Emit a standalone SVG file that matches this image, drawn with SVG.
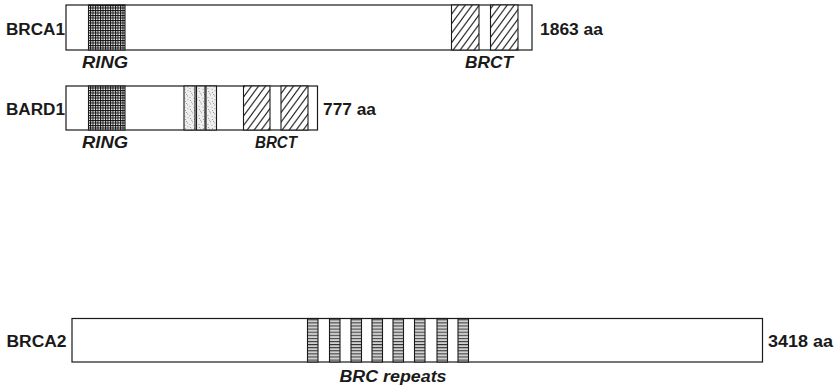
<svg xmlns="http://www.w3.org/2000/svg" width="835" height="386" viewBox="0 0 835 386">
<defs>
  <pattern id="grid" patternUnits="userSpaceOnUse" width="2.5" height="2.5">
    <rect width="2.5" height="2.5" fill="#fff"/>
    <path d="M0 0.5H2.5M0.5 0V2.5" stroke="#111" stroke-width="1"/>
  </pattern>
  <pattern id="hatch" patternUnits="userSpaceOnUse" width="7" height="9.5">
    <rect width="7" height="9.5" fill="#fff"/>
    <path d="M-0.5 10.18L7.5 -0.68M-7.5 10.18L0.5 -0.68M6.5 10.18L14.5 -0.68" stroke="#1a1a1a" stroke-width="1.1"/>
  </pattern>
  <pattern id="stipple" patternUnits="userSpaceOnUse" width="9" height="9">
    <rect width="9" height="9" fill="#efefef"/>
    <g fill="#888">
      <rect x="1" y="1" width="0.9" height="0.9"/>
      <rect x="5" y="2" width="0.9" height="0.9"/>
      <rect x="3" y="4.5" width="0.9" height="0.9"/>
      <rect x="7.2" y="5.5" width="0.9" height="0.9"/>
      <rect x="0.5" y="7" width="0.9" height="0.9"/>
      <rect x="4.6" y="7.8" width="0.9" height="0.9"/>
      <rect x="7.5" y="0.3" width="0.9" height="0.9"/>
      <rect x="2.2" y="2.8" width="0.9" height="0.9"/>
      <rect x="6" y="4" width="0.9" height="0.9"/>
    </g>
  </pattern>
  <pattern id="hstripe" patternUnits="userSpaceOnUse" width="12" height="3.1">
    <rect width="12" height="3.1" fill="#d0d0d0"/>
    <rect y="0" width="12" height="1" fill="#333"/>
  </pattern>
</defs>
<style>
  .box{fill:#fff;stroke:#1a1a1a;stroke-width:1.2}
  .dom{stroke:#1a1a1a;stroke-width:1.1}
  .name{font-family:"Liberation Sans",Arial,sans-serif;font-weight:bold;font-size:16px;fill:#1a1a1a}
  .lab{font-family:"Liberation Sans",Arial,sans-serif;font-weight:bold;font-style:italic;font-size:16px;fill:#1a1a1a}
</style>

<g id="BRCA1">
  <rect class="box" x="66" y="5" width="466" height="45"/>
  <rect class="dom" x="88.5" y="5" width="36.5" height="45" fill="url(#grid)"/>
  <rect class="dom" x="451.5" y="5" width="27.5" height="45" fill="url(#hatch)"/>
  <rect class="dom" x="490.5" y="5" width="27.5" height="45" fill="url(#hatch)"/>
  <text class="name" x="6" y="35" textLength="59" lengthAdjust="spacingAndGlyphs">BRCA1</text>
  <text class="name" x="540" y="35" textLength="63" lengthAdjust="spacingAndGlyphs">1863 aa</text>
  <text class="lab" x="82" y="68" textLength="46" lengthAdjust="spacingAndGlyphs">RING</text>
  <text class="lab" x="465" y="68" textLength="48" lengthAdjust="spacingAndGlyphs">BRCT</text>
</g>

<g id="BARD1">
  <rect class="box" x="66" y="86" width="251.5" height="44"/>
  <rect class="dom" x="88.5" y="86" width="36.5" height="44" fill="url(#grid)"/>
  <rect class="dom" x="184" y="86" width="11" height="44" fill="url(#stipple)"/>
  <rect class="dom" x="196.5" y="86" width="8.5" height="44" fill="url(#stipple)"/>
  <rect class="dom" x="206" y="86" width="10.5" height="44" fill="url(#stipple)"/>
  <rect class="dom" x="243.5" y="86" width="26.5" height="44" fill="url(#hatch)"/>
  <rect class="dom" x="281" y="86" width="27" height="44" fill="url(#hatch)"/>
  <text class="name" x="6" y="115" textLength="59" lengthAdjust="spacingAndGlyphs">BARD1</text>
  <text class="name" x="323" y="115" textLength="53" lengthAdjust="spacingAndGlyphs">777 aa</text>
  <text class="lab" x="82" y="148" textLength="46" lengthAdjust="spacingAndGlyphs">RING</text>
  <text class="lab" x="255" y="148" textLength="42" lengthAdjust="spacingAndGlyphs">BRCT</text>
</g>

<g id="BRCA2">
  <rect class="box" x="72" y="318.5" width="690.5" height="43.5"/>
  <g fill="url(#hstripe)" class="dom">
    <rect x="307.5" y="318.5" width="10.5" height="43.5"/>
    <rect x="329.5" y="318.5" width="10.5" height="43.5"/>
    <rect x="351" y="318.5" width="10.5" height="43.5"/>
    <rect x="372" y="318.5" width="10.5" height="43.5"/>
    <rect x="393" y="318.5" width="10.5" height="43.5"/>
    <rect x="414.5" y="318.5" width="10.5" height="43.5"/>
    <rect x="437" y="318.5" width="10.5" height="43.5"/>
    <rect x="458" y="318.5" width="10.5" height="43.5"/>
  </g>
  <text class="name" x="6.5" y="346.5" textLength="60" lengthAdjust="spacingAndGlyphs">BRCA2</text>
  <text class="name" x="768" y="346.5" textLength="65" lengthAdjust="spacingAndGlyphs">3418 aa</text>
  <text class="lab" x="339.5" y="381.5" textLength="107" lengthAdjust="spacingAndGlyphs">BRC repeats</text>
</g>
</svg>
